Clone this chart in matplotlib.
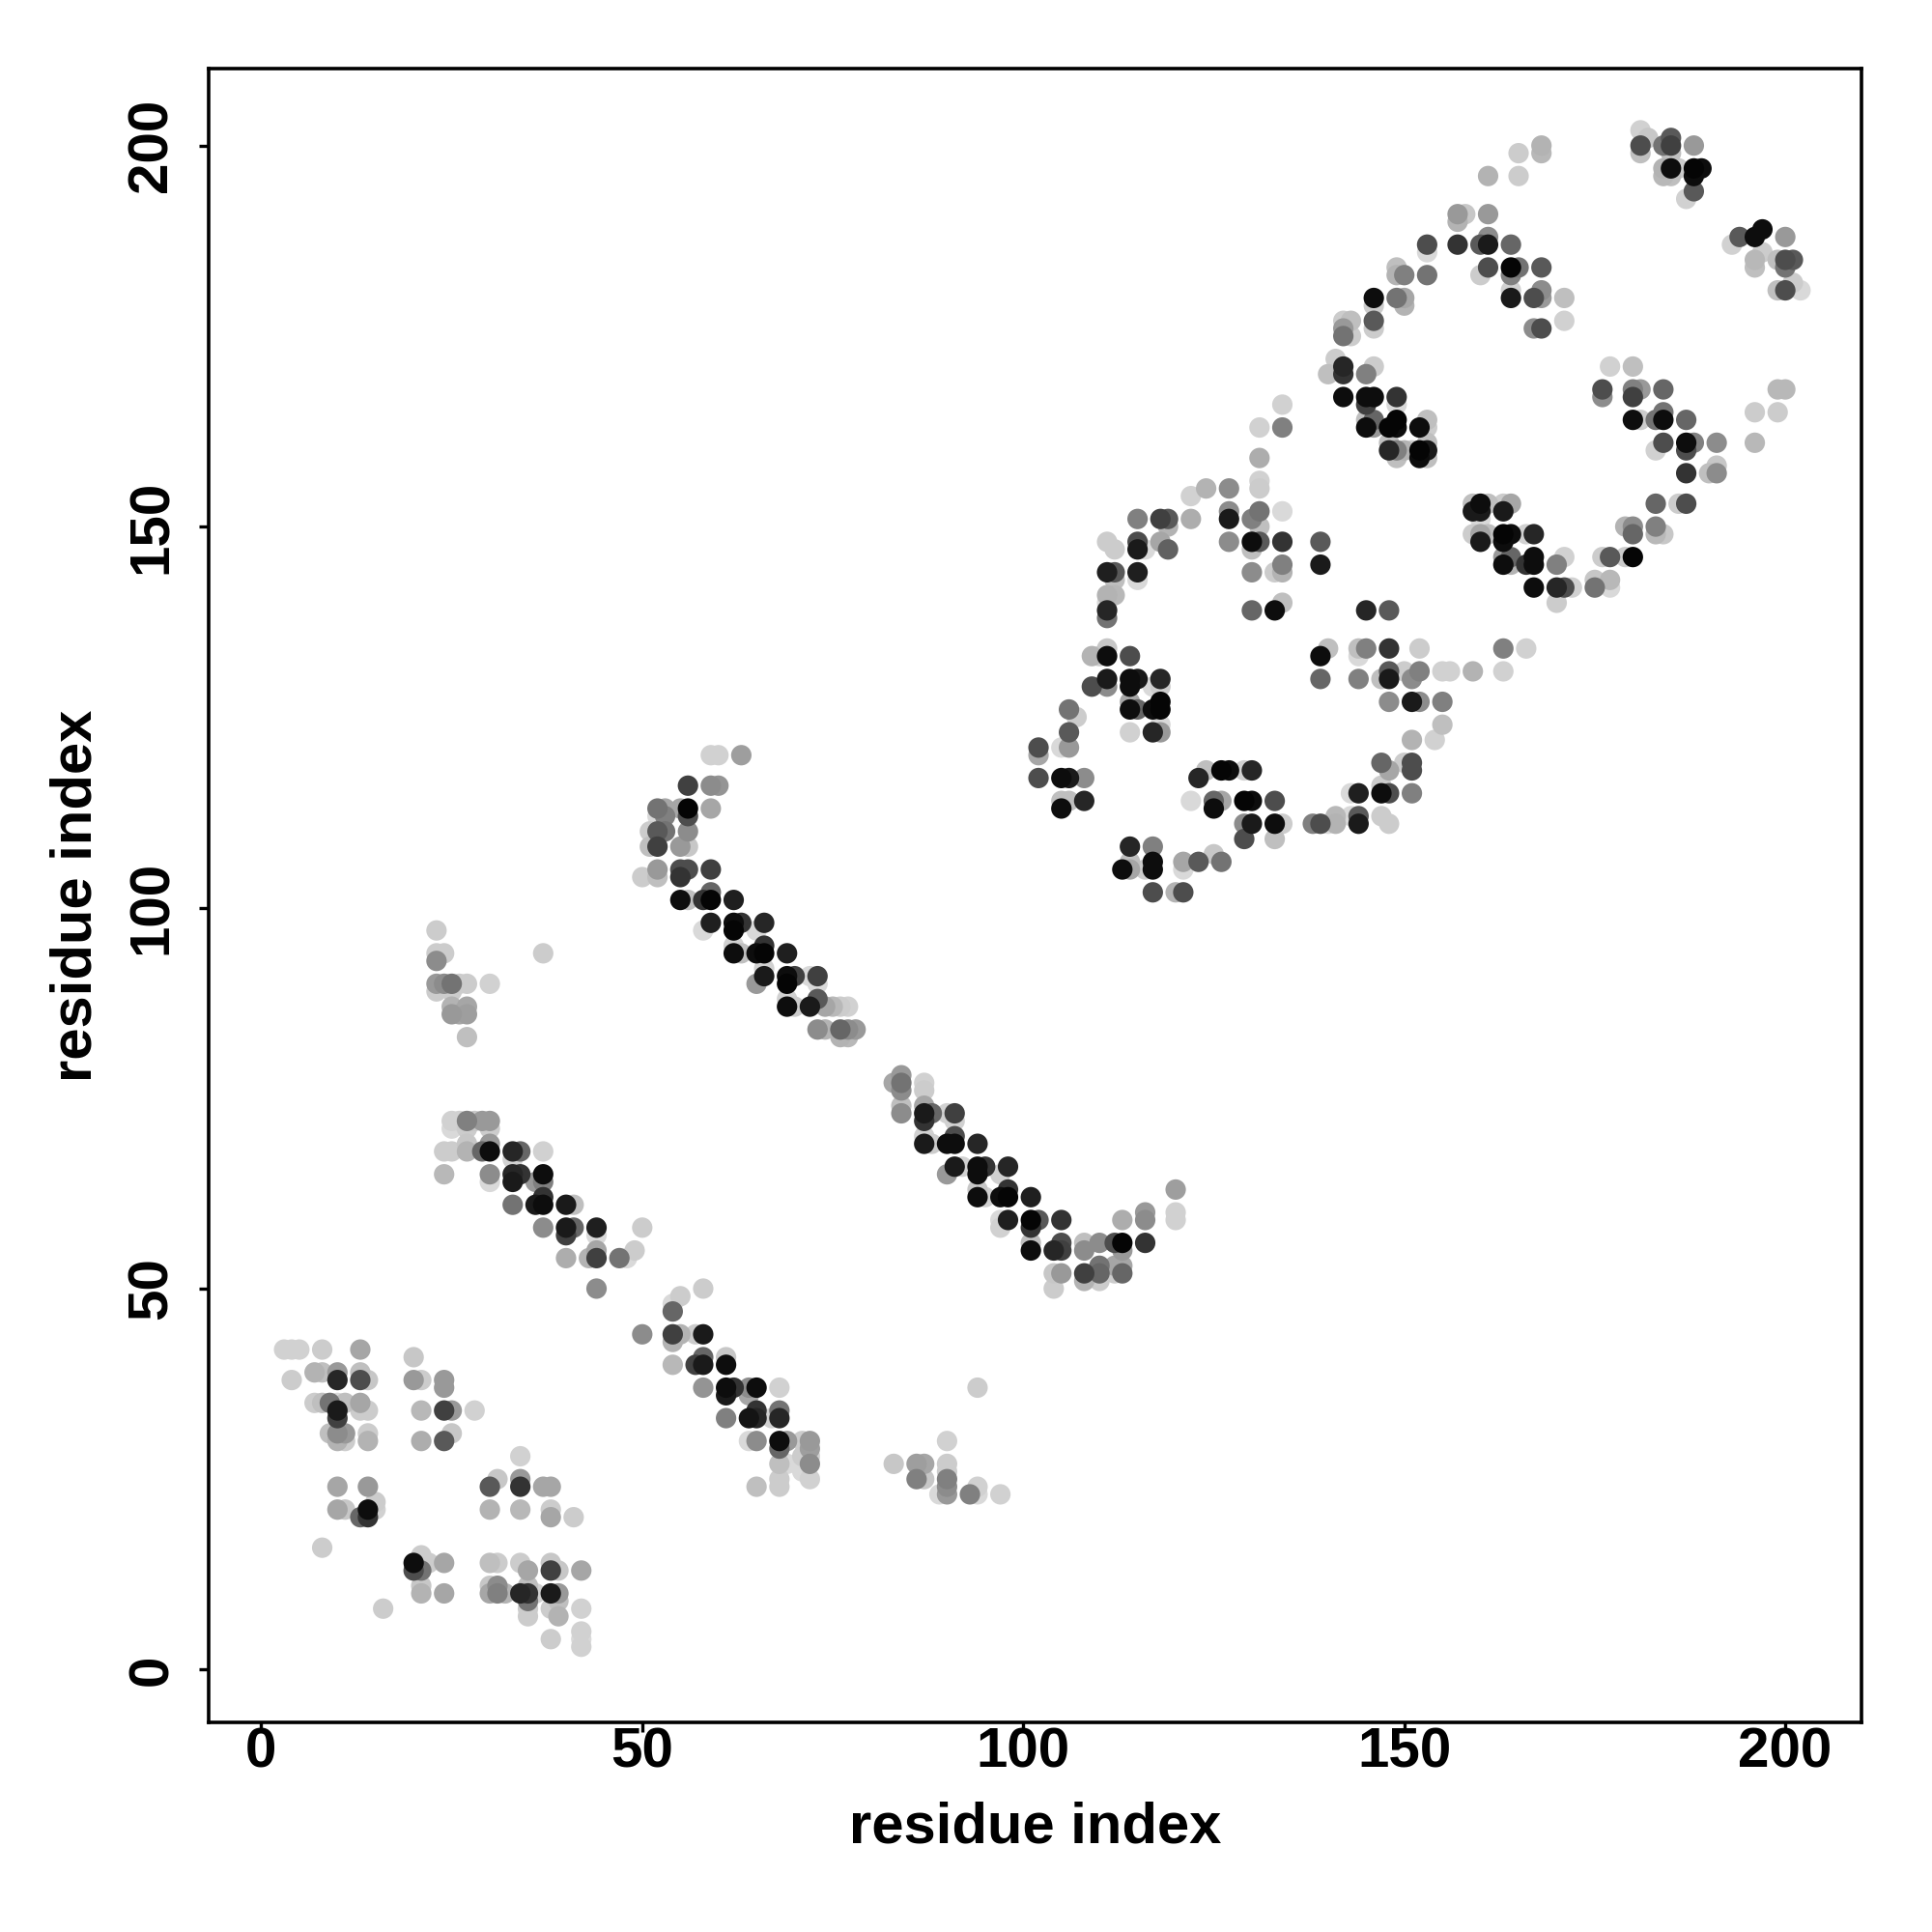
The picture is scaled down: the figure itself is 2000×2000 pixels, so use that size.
import matplotlib
matplotlib.use("Agg")
import matplotlib.pyplot as plt
import numpy as np

# contacts: (residue i, residue j, grey level 0=black..1=white)
corner_contacts = [
    (3,42,.82),(4,42,.82),(5,42,.82),(8,42,.8),(13,42,.65),(20,41,.78),
    (4,38,.8),(7,39,.7),(8,39,.75),(10,39,.6),(10,38,.15),(13,39,.75),(13,38,.3),(14,38,.78),
    (20,38,.6),(21,38,.8),(24,38,.6),(24,37,.6),
    (7,35,.8),(8,35,.75),(9,35,.45),(10,35,.85),(10,34,.1),(10,33,.25),(11,35,.75),(13,35,.65),
    (13,34,.8),(14,34,.8),(21,34,.72),(24,34,.25),(25,34,.6),(28,34,.82),
    (9,31,.75),(10,31,.55),(11,31,.6),(10,30,.7),(11,30,.8),(14,31,.8),(14,30,.7),(21,30,.68),
    (24,30,.35),(25,31,.78),
    (34,28,.82),(30,24,.35),(31,25,.78),(34,25,.6),(34,24,.2),(37,24,.65),(38,24,.65),(10,24,.65),(14,24,.6),
    (10,21,.65),(11,21,.78),(13,20,.4),(14,21,.05),(14,20,.2),(15,22,.8),(15,21,.82),(30,21,.7),
    (34,21,.72),(38,21,.8),(38,20,.65),(41,20,.8),
    (8,16,.8),(20,14,.05),(20,13,.3),(21,15,.8),(22,14,.8),(21,13,.45),(24,14,.65),(21,11,.78),
    (21,10,.7),(24,10,.65),(16,8,.8),
    (30,14,.75),(31,14,.8),(34,14,.8),(35,13,.65),(38,14,.78),(38,13,.25),(39,13,.78),(42,13,.65),
    (30,11,.78),(30,10,.65),(31,11,.55),(31,10,.5),(32,10,.7),(34,10,.15),(35,11,.75),(35,10,.2),
    (35,9,.45),(36,10,.82),(38,10,.1),(39,10,.6),(39,9,.75),
    (35,8,.8),(35,7,.8),(38,8,.8),(39,7,.7),(42,8,.82),(38,4,.8),(42,5,.82),(42,4,.85),(42,3,.82),
]

band1_contacts = [
    (23,97,.8),(23,94,.8),(24,94,.8),(23,93,.55),(37,94,.8),
    (23,90,.6),(24,90,.55),(25,90,.45),(26,90,.8),(27,90,.8),(23,89,.8),(25,89,.8),(30,90,.82),
    (25,87,.7),(25,86,.6),(26,86,.65),(27,87,.65),(27,86,.62),(27,83,.75),
    (25,72,.82),(26,72,.82),(27,72,.5),(28,72,.78),(29,72,.6),(30,72,.6),(25,71,.85),(27,71,.8),(30,71,.8),
    (24,68,.8),(25,68,.8),(27,69,.78),(27,68,.7),(29,68,.4),(30,69,.6),(30,68,.05),(33,68,.15),
    (34,68,.4),(33,67,.82),(37,68,.82),
    (24,65,.72),(30,65,.55),(30,64,.85),(33,65,.15),(33,64,.1),(34,65,.2),(36,64,.6),(37,65,.05),(37,64,.5),
    (33,61,.45),(36,61,.1),(37,62,.2),(37,61,.05),(40,61,.1),(41,61,.75),
    (37,58,.55),(40,58,.1),(41,58,.4),(40,57,.25),(44,58,.12),(44,57,.85),(50,58,.8),
    (40,54,.68),(43,54,.7),(44,55,.65),(44,54,.25),(47,54,.45),(48,54,.85),(49,55,.8),(44,50,.55),
]

band2_low_contacts = [
    (58,50,.8),(55,49,.8),(54,48,.85),(54,47,.4),(50,44,.55),
    (54,44,.25),(55,44,.7),(57,44,.8),(58,44,.1),(54,43,.7),
    (54,40,.72),(57,40,.25),(58,41,.4),(58,40,.1),(61,41,.78),(61,40,.05),
    (58,37,.58),(61,37,.05),(62,37,.2),(61,36,.1),(64,37,.55),(64,36,.65),(65,37,.05),(68,37,.82),
    (61,33,.5),(64,33,.08),(65,34,.2),(65,33,.15),(67,33,.82),(68,34,.45),(68,33,.15),
    (64,30,.85),(65,30,.55),(68,30,.05),(68,29,.4),(69,30,.6),(71,30,.8),(72,30,.6),(72,29,.62),
    (68,27,.75),(69,27,.85),(71,28,.8),(72,28,.82),(72,27,.55),(71,26,.85),(72,25,.82),(68,25,.8),
    (68,24,.8),(65,24,.75),
    (83,27,.78),(86,27,.62),(87,27,.65),(86,25,.5),(87,25,.78),(90,30,.82),(90,27,.8),(90,26,.8),
    (90,25,.5),(90,24,.55),(89,23,.85),(90,23,.6),(93,23,.5),(94,24,.82),(94,23,.85),(97,23,.82),(94,37,.8),
]

band2_up_contacts = [
    (59,120,.82),(60,120,.82),(63,120,.62),(56,116,.25),(59,116,.55),(60,116,.58),
    (52,113,.45),(53,113,.65),(55,113,.65),(56,113,.02),(56,112,.3),(59,113,.65),(52,112,.85),(53,112,.5),
    (51,110,.8),(52,110,.35),(53,110,.45),(56,110,.55),(51,108,.75),(52,108,.25),(52,109,.85),
    (55,108,.6),(56,108,.78),
    (50,104,.8),(52,105,.6),(52,104,.75),(55,105,.3),(55,104,.2),(56,105,.3),(59,105,.25),
    (55,101,.05),(56,101,.75),(58,101,.2),(59,102,.4),(59,101,.02),(62,101,.12),
    (58,97,.85),(59,98,.12),(62,98,.05),(62,97,.02),(63,98,.2),(65,97,.85),(66,98,.15),
    (62,95,.82),(62,94,.05),(63,94,.75),(65,94,.05),(66,95,.2),(66,94,.02),(69,94,.12),
    (65,90,.6),(66,92,.82),(66,91,.1),(69,91,.05),(69,90,.02),(70,91,.25),(72,91,.85),(73,91,.25),(73,90,.85),
    (69,88,.82),(69,87,.05),(70,87,.8),(72,87,.1),(73,88,.35),(74,87,.65),(75,87,.72),(76,87,.8),(77,87,.82),
    (73,84,.55),(74,84,.7),(76,84,.4),(76,83,.7),(77,84,.55),(78,84,.6),(77,83,.72),
]

band3_contacts = [
    (83,77,.65),(84,78,.6),(84,77,.45),(84,76,.55),(84,74,.75),(84,73,.55),
    (87,77,.82),(87,76,.8),(87,74,.65),(87,73,.1),(87,72,.2),(88,73,.4),
    (90,73,.82),(91,73,.25),(91,72,.82),
    (87,70,.82),(87,69,.1),(88,69,.8),(90,69,.05),(91,70,.3),(91,69,.05),(94,69,.15),
    (90,65,.6),(91,66,.1),(92,66,.82),(94,66,.05),(94,65,.05),(95,66,.2),(97,65,.82),(98,66,.15),
    (94,63,.78),(94,62,.05),(95,62,.82),(97,62,.05),(98,63,.2),(98,62,.02),(101,62,.12),
    (97,58,.82),(97,59,.85),(98,59,.12),(101,59,.02),(101,58,.2),(102,59,.35),(105,59,.2),
    (101,56,.75),(101,55,.05),(104,55,.15),(105,56,.3),(105,55,.25),(108,56,.75),(108,55,.55),
    (110,56,.55),(112,56,.3),(113,56,.02),(113,55,.6),(116,56,.2),
    (104,52,.78),(105,52,.6),(104,50,.8),(108,52,.25),(108,51,.7),(109,52,.82),(110,53,.45),
    (110,51,.8),(110,52,.4),(112,53,.65),(112,52,.8),(113,53,.65),(113,52,.4),
    (113,59,.68),(116,60,.6),(116,59,.55),(120,63,.62),(120,60,.82),(120,59,.82),
]

middle_contacts = [
    (115,151,.5),(118,151,.25),(119,151,.35),(119,150,.7),(122,151,.68),(122,154,.82),
    (111,148,.8),(112,147,.8),(115,148,.3),(115,147,.1),(116,147,.85),(118,148,.65),(119,147,.38),
    (111,144,.12),(112,144,.35),(112,143,.75),(115,144,.12),(115,143,.85),
    (111,141,.7),(112,141,.72),(111,140,.85),(111,139,.15),(111,138,.45),
    (109,133,.7),(110,133,.8),(111,134,.78),(111,133,.05),(114,133,.3),
    (109,129,.3),(111,130,.1),(111,129,.55),(114,130,.05),(115,130,.1),(114,129,.05),(117,129,.85),
    (118,130,.15),(118,129,.8),
    (114,127,.65),(114,126,.05),(115,126,.4),(117,126,.05),(118,127,.02),(118,126,.02),(118,124,.85),
    (118,123,.6),(117,123,.15),(114,123,.82),
    (106,126,.45),(107,125,.8),(106,123,.35),(102,121,.3),(102,120,.65),(105,121,.85),(106,121,.6),
    (102,117,.3),(105,117,.05),(106,117,.1),(108,117,.55),(105,114,.75),(106,114,.75),(105,113,.05),(108,114,.15),
    (123,117,.15),(124,118,.75),(126,118,.02),(127,118,.05),(129,118,.82),(130,118,.15),(125,114,.4),
    (126,114,.65),(125,113,.05),(129,114,.02),(130,114,.05),(133,114,.3),(122,114,.85),
    (129,111,.55),(130,111,.1),(129,109,.3),(133,111,.05),(134,111,.8),(133,109,.75),
    (138,111,.5),(139,111,.3),(140,111,.85),
    (114,108,.15),(117,108,.5),(113,105,.05),(114,106,.75),(114,105,.65),(116,105,.8),(117,106,.05),
    (117,105,.05),(121,106,.65),(121,105,.85),(123,106,.35),(125,107,.78),(126,106,.45),
    (117,102,.3),(120,102,.7),(121,102,.3),
]

ring_contacts = [
    (127,152,.55),(127,151,.1),(130,151,.5),(131,152,.45),(131,150,.75),(134,152,.85),
    (127,148,.55),(130,148,.05),(131,148,.35),(130,147,.75),(134,148,.2),(139,148,.35),
    (130,144,.55),(133,144,.8),(134,145,.5),(134,144,.7),(139,145,.1),
    (130,139,.4),(133,139,.05),(134,140,.75),
    (139,133,.05),(140,134,.75),(139,130,.4),(144,134,.75),(144,130,.5),
    (134,166,.82),(131,163,.82),(134,163,.5),(131,159,.68),(131,156,.82),(131,155,.8),(124,155,.7),(127,155,.55),
    (145,139,.15),(148,139,.35),
    (144,133,.85),(145,134,.5),(148,134,.2),(152,134,.8),(163,134,.5),(166,134,.82),
    (147,130,.75),(148,131,.35),(148,130,.1),(150,131,.8),(151,130,.55),(152,131,.5),(155,131,.82),
    (156,131,.82),(159,131,.7),(163,131,.82),
    (148,127,.55),(151,127,.1),(152,127,.55),(155,127,.5),
    (155,124,.75),(151,122,.7),(154,122,.82),
    (147,119,.4),(148,118,.65),(150,119,.8),(151,119,.3),(151,118,.3),
    (143,115,.85),(144,115,.12),(147,116,.8),(147,115,.05),(148,115,.3),(151,115,.5),
    (141,112,.72),(141,111,.7),(143,112,.85),(144,112,.35),(144,111,.1),(147,112,.8),(148,111,.8),
]

upper_contacts = [
    (165,199,.8),(168,200,.7),(168,199,.72),(161,196,.7),(165,196,.8),
    (157,191,.6),(158,191,.78),(157,190,.7),(161,191,.6),
    (153,187,.3),(153,186,.85),(157,187,.2),(160,187,.35),(161,187,.1),(161,188,.55),(164,187,.4),
    (149,184,.75),(150,183,.5),(149,183,.7),(153,183,.45),(160,183,.8),(161,184,.3),(164,184,.02),
    (165,184,.45),(164,183,.5),(168,184,.35),
    (146,180,.05),(146,179,.8),(149,180,.45),(150,180,.65),(150,179,.7),(164,181,.82),(164,180,.1),
    (167,180,.3),(168,181,.55),(168,180,.6),(171,180,.75),
    (146,177,.35),(146,176,.8),(167,176,.55),(168,176,.3),(171,177,.82),
    (142,177,.8),(143,177,.75),(142,176,.6),(143,175,.8),(142,175,.45),
    (141,172,.8),(142,171,.15),(142,170,.2),(145,170,.5),(146,171,.8),(140,170,.75),
    (142,167,.05),(145,167,.05),(146,167,.05),(145,166,.25),(149,167,.2),(149,166,.85),
    (145,164,.75),(145,163,.05),(146,164,.4),(146,163,.6),(148,163,.02),(149,164,.02),(149,163,.05),
    (152,163,.05),(153,164,.75),(153,163,.8),
    (148,161,.75),(149,160,.5),(148,160,.15),(150,160,.7),(151,160,.8),(152,160,.02),(153,161,.75),
    (153,160,.1),(149,159,.75),(153,159,.75),(152,159,.05),
    (159,153,.75),(160,153,.05),(159,152,.1),(161,153,.75),(160,152,.1),(160,151,.85),(163,153,.8),
    (164,153,.65),(163,152,.1),
    (159,149,.8),(160,149,.65),(160,148,.1),(161,149,.75),(163,149,.02),(164,149,.05),(163,148,.05),
    (166,149,.82),(167,149,.15),
    (163,146,.6),(164,146,.4),(163,145,.05),(164,145,.7),(166,145,.2),(167,146,.05),(167,145,.05),
    (170,145,.5),(171,146,.82),
    (167,142,.05),(170,142,.15),(171,142,.3),(170,140,.8),(172,142,.82),
]

cterm_contacts = [
    (181,202,.82),(182,201,.78),(181,200,.3),(181,199,.75),(184,200,.45),(185,201,.35),(185,200,.25),
    (185,199,.75),(188,200,.6),
    (184,197,.7),(185,197,.05),(186,197,.8),(184,196,.72),(185,196,.75),(188,197,.02),(189,197,.05),
    (188,196,.05),(188,194,.35),(187,193,.82),
    (197,189,.05),(196,188,.05),(194,188,.35),(193,187,.82),(200,188,.6),(197,186,.8),(196,185,.72),
    (196,184,.75),(199,185,.75),(200,185,.3),(201,185,.35),(200,184,.45),(199,181,.75),(200,181,.3),
    (201,182,.8),(202,181,.85),
    (177,171,.82),(180,171,.75),(176,168,.3),(176,167,.55),(180,168,.5),(181,168,.6),(180,167,.25),(184,168,.4),
    (180,164,.05),(181,164,.8),(183,164,.45),(184,165,.45),(184,164,.05),(187,164,.4),
    (183,160,.82),(184,161,.3),(187,161,.05),(187,160,.3),(188,161,.5),(191,161,.55),
    (187,157,.2),(190,157,.75),(191,158,.78),(191,157,.55),
    (183,153,.4),(186,153,.8),(187,153,.3),
    (179,150,.7),(180,150,.55),(180,149,.4),(183,150,.5),(183,149,.72),(184,149,.78),
    (176,146,.8),(177,146,.35),(179,146,.8),(180,146,.02),
    (175,143,.78),(177,143,.72),(175,142,.45),(177,142,.85),
    (199,168,.72),(200,168,.72),(196,165,.8),(199,165,.8),(196,161,.72),
]

ticks = [0, 50, 100, 150, 200]

all_contacts = (corner_contacts + band1_contacts + band2_low_contacts + band2_up_contacts +
                band3_contacts + middle_contacts + ring_contacts + upper_contacts + cterm_contacts)
arr = np.array(all_contacts, dtype=float)
xs, ys, shade = arr[:, 0], arr[:, 1], arr[:, 2]
# light points first so dark ones sit on top, roughly as in the original
order = np.argsort(-shade, kind="stable")
cols = [(s, s, s) for s in shade[order]]

font = ['Liberation Sans', 'DejaVu Sans']
plt.rcParams['font.family'] = font

fig = plt.figure(figsize=(10, 10), dpi=200)
ax = fig.add_axes([0.1078, 0.1084, 0.8559, 0.8559])
ax.scatter(xs[order], ys[order], c=cols, s=58, linewidths=0)

ax.set_xlim(-6.95, 210.05)
ax.set_ylim(-6.95, 210.05)
ax.set_xticks(ticks)
ax.set_yticks(ticks)
for sp in ax.spines.values():
    sp.set_linewidth(1.3)
ax.tick_params(axis='both', length=3.6, width=1.2, labelsize=21)
ax.tick_params(axis='x', pad=-2)
ax.tick_params(axis='y', pad=7.5)
for lab in ax.get_xticklabels():
    lab.set_fontweight('bold')
for lab in ax.get_yticklabels():
    lab.set_fontweight('bold')
    lab.set_rotation(90)
    lab.set_va('center')

ax.set_xlabel('residue index', fontsize=21.5, fontweight='bold', va='center')
ax.set_ylabel('residue index', fontsize=21.5, fontweight='bold', va='center')
ax.xaxis.set_label_coords(0.5, -0.0636)
ax.yaxis.set_label_coords(-0.0798, 0.5)

fig.savefig('out.png', dpi=200, facecolor='white')
